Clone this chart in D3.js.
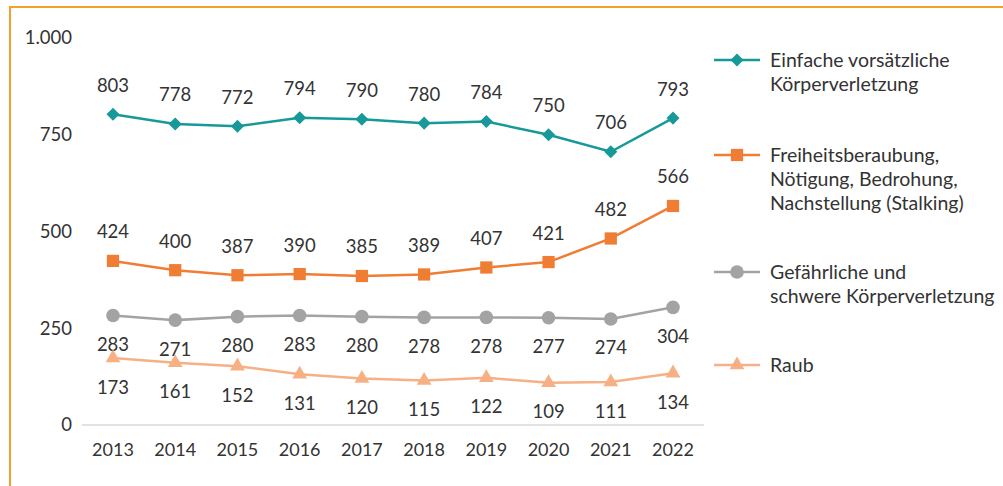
<!DOCTYPE html>
<html>
  <head>
    <meta charset="UTF-8">
    <title>Gewaltdelikte 2013-2022</title>
    <style>
    body {
      margin: 0;
      background: #fff;
    }
    svg text {
      font-family: Lato, "Open Sans", sans-serif;
      fill: #333;
    }
    .frame {
      fill: none;
      stroke: #f4a02c;
      stroke-width: 2px;
    }
    .series {
      fill: none;
      stroke-width: 2.5px;
    }
    </style>
  </head>
  <body>
    <svg width="1003" height="486"></svg>
    <script src="https://d3js.org/d3.v7.min.js"></script>
    <script>
// data
var years = [2013, 2014, 2015, 2016, 2017, 2018, 2019, 2020, 2021, 2022];
var einfache = [803, 778, 772, 794, 790, 780, 784, 750, 706, 793];
var freiheit = [424, 400, 387, 390, 385, 389, 407, 421, 482, 566];
var gefaehrlich = [283, 271, 280, 283, 280, 278, 278, 277, 274, 304];
var raub = [173, 161, 152, 131, 120, 115, 122, 109, 111, 134];
var yTicks = [0, 250, 500, 750, 1000];

var seriesNames = [
  ["Einfache vorsätzliche", "Körperverletzung"],
  ["Freiheitsberaubung,", "Nötigung, Bedrohung,", "Nachstellung (Stalking)"],
  ["Gefährliche und", "schwere Körperverletzung"],
  ["Raub"]
];

// diamond is drawn as a square turned by 45 degrees
var series = [
  {values: einfache, color: "#17999a", symbol: d3.symbolSquare, size: 85, rotate: 45, above: true, legendY: 60},
  {values: freiheit, color: "#ef7d33", symbol: d3.symbolSquare, size: 150, rotate: 0, above: true, legendY: 155},
  {values: gefaehrlich, color: "#a3a3a3", symbol: d3.symbolCircle, size: 145, rotate: 0, above: false, legendY: 272},
  {values: raub, color: "#f7b083", symbol: d3.symbolTriangle, size: 95, rotate: 0, above: false, legendY: 365}
];
series.forEach((s, i) => s.name = seriesNames[i]);

var svg = d3.select("svg");

// orange frame, open on the right and bottom
svg.append("path")
    .attr("class", "frame")
    .attr("d", "M 10 486 L 10 7 L 1003 7");

var x = d3.scalePoint()
    .domain(years)
    .range([113, 673]);

var y = d3.scaleLinear()
    .domain([0, 1000])
    .range([425, 38]);

// baseline
svg.append("line")
    .attr("x1", 82).attr("x2", 704)
    .attr("y1", y(0)).attr("y2", y(0))
    .attr("stroke", "#d9d9d9")
    .attr("stroke-width", 1.5);

// y axis labels
var fmt = d3.formatLocale({decimal: ",", thousands: ".", grouping: [3], currency: ["", "€"]}).format(",");
svg.append("g").selectAll("text")
    .data(yTicks)
    .join("text")
    .attr("x", 72)
    .attr("y", d => y(d))
    .attr("dy", "0.35em")
    .attr("text-anchor", "end")
    .style("font-size", "18.5px")
    .text(d => fmt(d));

// x axis labels
svg.append("g").selectAll("text")
    .data(years)
    .join("text")
    .attr("x", d => x(d))
    .attr("y", 450)
    .attr("dy", "0.35em")
    .attr("text-anchor", "middle")
    .style("font-size", "18px")
    .text(d => d);

var line = d3.line()
    .x((d, i) => x(years[i]))
    .y(d => y(d));

series.forEach(s => {
  var g = svg.append("g");

  g.append("path")
      .attr("class", "series")
      .attr("stroke", s.color)
      .attr("d", line(s.values));

  g.selectAll("path.marker")
      .data(s.values)
      .join("path")
      .attr("class", "marker")
      .attr("fill", s.color)
      .attr("transform", (d, i) => "translate(" + x(years[i]) + "," + y(d) + ") rotate(" + s.rotate + ")")
      .attr("d", d3.symbol().type(s.symbol).size(s.size));

  g.selectAll("text")
      .data(s.values)
      .join("text")
      .attr("x", (d, i) => x(years[i]))
      .attr("y", d => y(d) + (s.above ? -29 : 29))
      .attr("dy", "0.35em")
      .attr("text-anchor", "middle")
      .style("font-size", "18.5px")
      .text(d => d);

  // legend entry
  var lg = svg.append("g").attr("transform", "translate(0," + s.legendY + ")");
  lg.append("line")
      .attr("x1", 714).attr("x2", 760)
      .attr("stroke", s.color)
      .attr("stroke-width", 2.5);
  lg.append("path")
      .attr("fill", s.color)
      .attr("transform", "translate(737,0) rotate(" + s.rotate + ")")
      .attr("d", d3.symbol().type(s.symbol).size(s.size));
  lg.selectAll("text")
      .data(s.name)
      .join("text")
      .attr("x", 770)
      .attr("y", (d, i) => i * 24)
      .attr("dy", "0.35em")
      .style("font-size", "19.5px")
      .text(d => d);
});
    </script>
  </body>
</html>
